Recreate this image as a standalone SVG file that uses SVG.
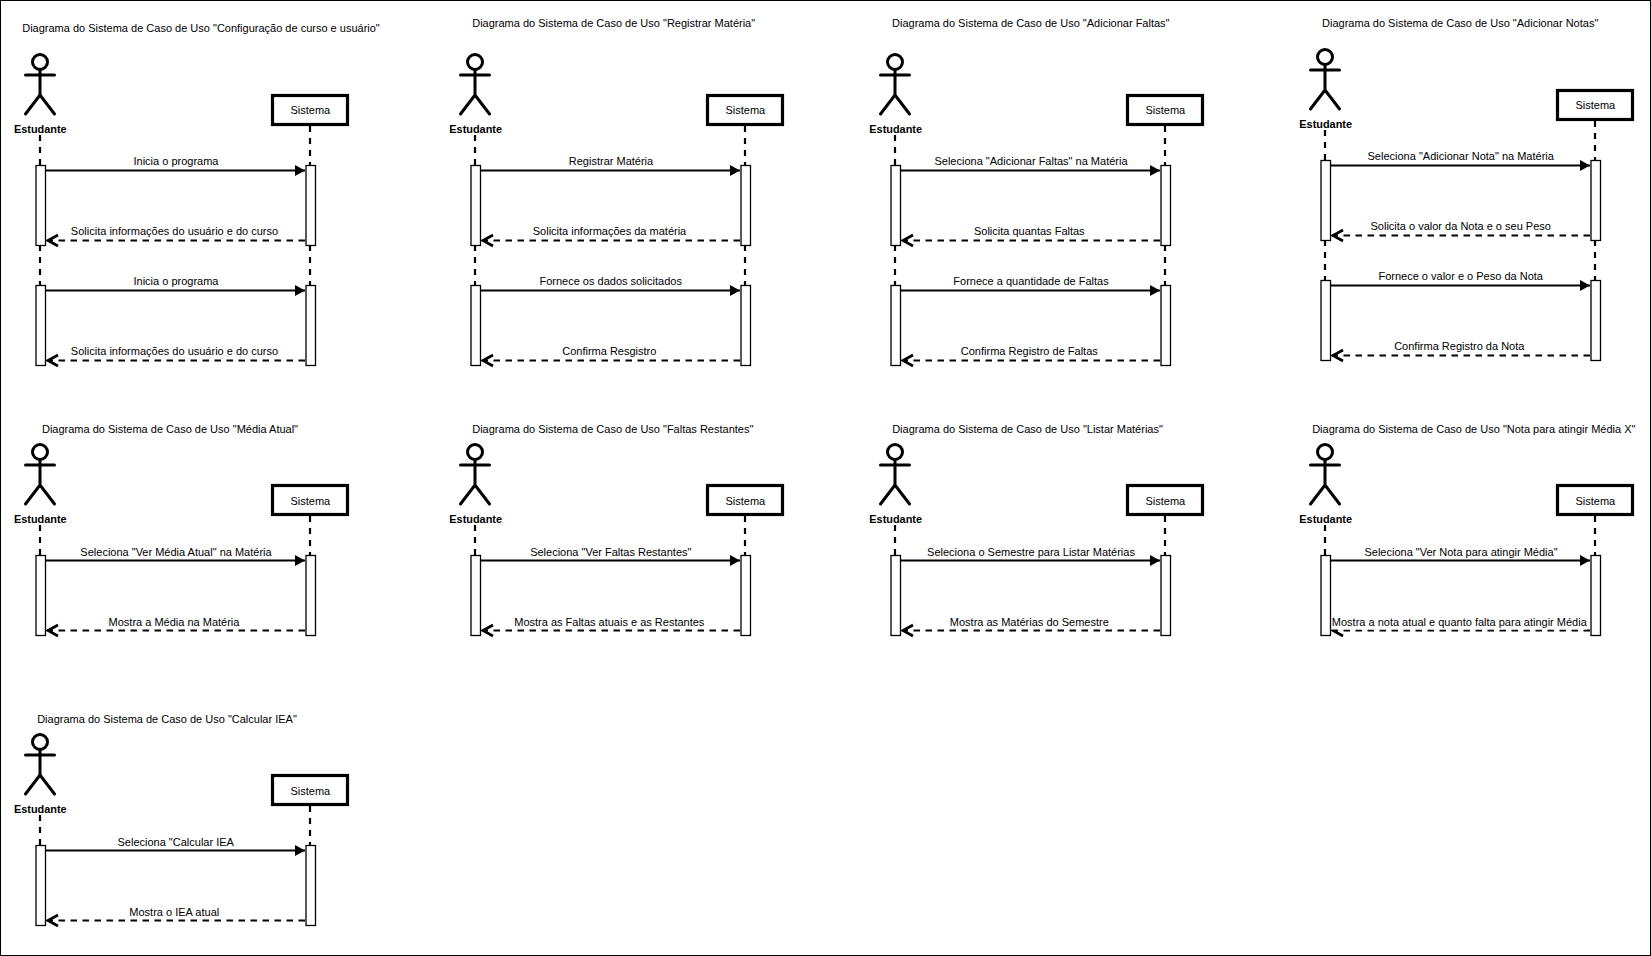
<svg xmlns="http://www.w3.org/2000/svg" width="1651" height="956" viewBox="0 0 1651 956">
<style>
text{font-family:"Liberation Sans",Arial,sans-serif;font-size:11px;fill:#000;text-anchor:middle}
.e{font-weight:bold;font-size:10.900px}
.b{fill:#fff;stroke:#000;stroke-width:3.200}
.a{fill:#fff;stroke:#000;stroke-width:1.300}
.l{fill:none;stroke:#000;stroke-width:2.200;stroke-dasharray:6 6}
.s{fill:none;stroke:#000;stroke-width:2.200}
.d{fill:none;stroke:#000;stroke-width:2.200;stroke-dasharray:6.500 5.500}
.p{fill:none;stroke:#000;stroke-width:3;stroke-linecap:round}
.m{fill:#fff;stroke:none}
</style>
<defs>
<g id="figure"><circle class="p" cx="40" cy="62" r="7.5"/><path class="p" d="M40 70V95M25.500 75H54.500M25.500 114L40 95L54.500 114"/></g>
<rect id="box" class="b" x="272.500" y="95.500" width="75" height="29"/>
<rect id="act" class="a" x="36" y="0.500" width="9.500" height="80"/>
<marker id="af" markerUnits="userSpaceOnUse" markerWidth="12" markerHeight="12" refX="10" refY="5.500" orient="auto"><path d="M0 0L10 5.500L0 11Z" fill="#000"/></marker>
<marker id="ao" markerUnits="userSpaceOnUse" markerWidth="15" markerHeight="15" refX="12.500" refY="7" orient="auto"><path d="M1.500 1.500L11.500 7L1.500 12.500" fill="none" stroke="#000" stroke-width="2.700"/></marker>
</defs>
<rect x="0.500" y="0.500" width="1650" height="955" fill="#fff" stroke="#000"/>
<g id="connectors">
<g id="c1" transform="translate(0,0)"><path class="l" d="M40 135V165M40 245V285M310 126V165M310 245V285"/><path class="s" d="M45 170.500H305" marker-end="url(#af)"/><path class="d" d="M305 240.500H47" marker-end="url(#ao)"/><path class="s" d="M45 290.500H305" marker-end="url(#af)"/><path class="d" d="M305 360.500H47" marker-end="url(#ao)"/></g>
<g id="c2" transform="translate(435,0)"><path class="l" d="M40 135V165M40 245V285M310 126V165M310 245V285"/><path class="s" d="M45 170.500H305" marker-end="url(#af)"/><path class="d" d="M305 240.500H47" marker-end="url(#ao)"/><path class="s" d="M45 290.500H305" marker-end="url(#af)"/><path class="d" d="M305 360.500H47" marker-end="url(#ao)"/></g>
<g id="c3" transform="translate(855,0)"><path class="l" d="M40 135V165M40 245V285M310 126V165M310 245V285"/><path class="s" d="M45 170.500H305" marker-end="url(#af)"/><path class="d" d="M305 240.500H47" marker-end="url(#ao)"/><path class="s" d="M45 290.500H305" marker-end="url(#af)"/><path class="d" d="M305 360.500H47" marker-end="url(#ao)"/></g>
<g id="c4" transform="translate(1285,-5)"><path class="l" d="M40 135V165M40 245V285M310 126V165M310 245V285"/><path class="s" d="M45 170.500H305" marker-end="url(#af)"/><path class="d" d="M305 240.500H47" marker-end="url(#ao)"/><path class="s" d="M45 290.500H305" marker-end="url(#af)"/><path class="d" d="M305 360.500H47" marker-end="url(#ao)"/></g>
<g id="c5" transform="translate(0,390)"><path class="l" d="M40 135V165M310 126V165"/><path class="s" d="M45 170.500H305" marker-end="url(#af)"/><path class="d" d="M305 240.500H47" marker-end="url(#ao)"/></g>
<g id="c6" transform="translate(435,390)"><path class="l" d="M40 135V165M310 126V165"/><path class="s" d="M45 170.500H305" marker-end="url(#af)"/><path class="d" d="M305 240.500H47" marker-end="url(#ao)"/></g>
<g id="c7" transform="translate(855,390)"><path class="l" d="M40 135V165M310 126V165"/><path class="s" d="M45 170.500H305" marker-end="url(#af)"/><path class="d" d="M305 240.500H47" marker-end="url(#ao)"/></g>
<g id="c8" transform="translate(1285,390)"><path class="l" d="M40 135V165M310 126V165"/><path class="s" d="M45 170.500H305" marker-end="url(#af)"/><path class="d" d="M305 240.500H47" marker-end="url(#ao)"/></g>
<g id="c9" transform="translate(0,680)"><path class="l" d="M40 135V165M310 126V165"/><path class="s" d="M45 170.500H305" marker-end="url(#af)"/><path class="d" d="M305 240.500H47" marker-end="url(#ao)"/></g>
</g>
<g id="labels">
<text x="176" y="165">Inicia o programa</text><text x="174.500" y="235">Solicita informações do usuário e do curso</text><text x="176" y="285">Inicia o programa</text><text x="174.500" y="355">Solicita informações do usuário e do curso</text>
<text x="611" y="165">Registrar Matéria</text><text x="609.500" y="235">Solicita informações da matéria</text><text x="610.700" y="285">Fornece os dados solicitados</text><text x="609.300" y="355">Confirma Resgistro</text>
<text x="1031" y="165">Seleciona "Adicionar Faltas" na Matéria</text><text x="1029.300" y="235">Solicita quantas Faltas</text><text x="1031" y="285">Fornece a quantidade de Faltas</text><text x="1029.300" y="355">Confirma Registro de Faltas</text>
<text x="1460.700" y="160">Seleciona "Adicionar Nota" na Matéria</text><text x="1460.700" y="230">Solicita o valor da Nota e o seu Peso</text><text x="1460.700" y="280">Fornece o valor e o Peso da Nota</text><text x="1459.300" y="350">Confirma Registro da Nota</text>
<text x="176" y="555.500">Seleciona "Ver Média Atual" na Matéria</text><text x="174" y="625.500">Mostra a Média na Matéria</text>
<text x="610.800" y="555.500">Seleciona "Ver Faltas Restantes"</text><text x="609.300" y="625.500">Mostra as Faltas atuais e as Restantes</text>
<text x="1031" y="555.500">Seleciona o Semestre para Listar Matérias</text><text x="1029.300" y="625.500">Mostra as Matérias do Semestre</text>
<text x="1461" y="555.500">Seleciona "Ver Nota para atingir Média"</text><rect class="m" x="1332" y="617" width="255" height="12.500"/><text x="1459.300" y="625.500">Mostra a nota atual e quanto falta para atingir Média</text>
<text x="175.700" y="846">Seleciona "Calcular IEA</text><text x="174.300" y="916">Mostra o IEA atual</text>
</g>
<g id="titles">
<text x="201" y="32">Diagrama do Sistema de Caso de Uso "Configuração de curso e usuário"</text>
<text x="613.700" y="27">Diagrama do Sistema de Caso de Uso "Registrar Matéria"</text>
<text x="1030.800" y="27">Diagrama do Sistema de Caso de Uso "Adicionar Faltas"</text>
<text x="1460.200" y="27">Diagrama do Sistema de Caso de Uso "Adicionar Notas"</text>
<text x="170" y="432.500">Diagrama do Sistema de Caso de Uso "Média Atual"</text>
<text x="612.800" y="432.500">Diagrama do Sistema de Caso de Uso "Faltas Restantes"</text>
<text x="1027.500" y="432.500">Diagrama do Sistema de Caso de Uso "Listar Matérias"</text>
<text x="1473.800" y="432.500">Diagrama do Sistema de Caso de Uso "Nota para atingir Média X"</text>
<text x="167" y="722.500">Diagrama do Sistema de Caso de Uso "Calcular IEA"</text>
</g>
<g id="actor1"><use href="#figure"/><text class="e" x="40.300" y="132.500">Estudante</text></g>
<g id="actor2"><use href="#figure" x="435"/><text class="e" x="475.700" y="132.500">Estudante</text></g>
<g id="actor3"><use href="#figure" x="855"/><text class="e" x="895.700" y="132.500">Estudante</text></g>
<g id="actor4"><use href="#figure" x="1285" y="-5"/><text class="e" x="1325.700" y="127.500">Estudante</text></g>
<g id="actor5"><use href="#figure" y="390"/><text class="e" x="40.300" y="523">Estudante</text></g>
<g id="actor6"><use href="#figure" x="435" y="390"/><text class="e" x="475.700" y="522.500">Estudante</text></g>
<g id="actor7"><use href="#figure" x="855" y="390"/><text class="e" x="895.700" y="522.500">Estudante</text></g>
<g id="actor8"><use href="#figure" x="1285" y="390"/><text class="e" x="1325.700" y="522.500">Estudante</text></g>
<g id="actor9"><use href="#figure" y="680"/><text class="e" x="40.300" y="812.500">Estudante</text></g>
<g id="system1"><use href="#box"/><text x="310.300" y="114">Sistema</text></g>
<g id="system2"><use href="#box" x="435"/><text x="745.300" y="114">Sistema</text></g>
<g id="system3"><use href="#box" x="855"/><text x="1165.300" y="114">Sistema</text></g>
<g id="system4"><use href="#box" x="1285" y="-5"/><text x="1595.300" y="109">Sistema</text></g>
<g id="system5"><use href="#box" y="390"/><text x="310.300" y="504.500">Sistema</text></g>
<g id="system6"><use href="#box" x="435" y="390"/><text x="745.300" y="504.500">Sistema</text></g>
<g id="system7"><use href="#box" x="855" y="390"/><text x="1165.300" y="504.500">Sistema</text></g>
<g id="system8"><use href="#box" x="1285" y="390"/><text x="1595.300" y="504.500">Sistema</text></g>
<g id="system9"><use href="#box" y="680"/><text x="310.300" y="794.500">Sistema</text></g>
<g id="activations">
<use href="#act" y="165"/><use href="#act" y="285"/><use href="#act" x="270" y="165"/><use href="#act" x="270" y="285"/>
<use href="#act" x="435" y="165"/><use href="#act" x="435" y="285"/><use href="#act" x="705" y="165"/><use href="#act" x="705" y="285"/>
<use href="#act" x="855" y="165"/><use href="#act" x="855" y="285"/><use href="#act" x="1125" y="165"/><use href="#act" x="1125" y="285"/>
<use href="#act" x="1285" y="160"/><use href="#act" x="1285" y="280"/><use href="#act" x="1555" y="160"/><use href="#act" x="1555" y="280"/>
<use href="#act" y="555"/><use href="#act" x="270" y="555"/>
<use href="#act" x="435" y="555"/><use href="#act" x="705" y="555"/>
<use href="#act" x="855" y="555"/><use href="#act" x="1125" y="555"/>
<use href="#act" x="1285" y="555"/><use href="#act" x="1555" y="555"/>
<use href="#act" y="845"/><use href="#act" x="270" y="845"/>
</g>
</svg>
